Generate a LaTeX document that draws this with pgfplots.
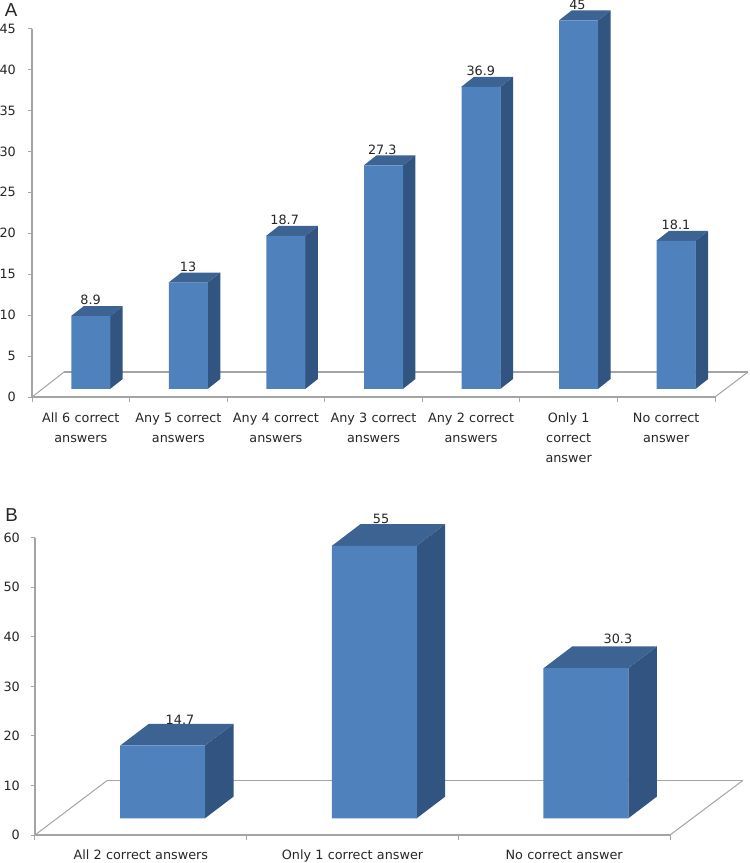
\documentclass[border=0pt]{standalone}
\usepackage{fontspec}
\setmainfont{DejaVu Sans}
\newfontfamily\panelfont{Liberation Sans}
\usepackage{pgfplots}
\usepackage{pgfplotstable}
\pgfplotsset{compat=1.18}

\definecolor{barfront}{HTML}{4F81BD}
\definecolor{barside}{HTML}{325480}
\definecolor{bartop}{HTML}{3C6391}
\definecolor{axisgray}{HTML}{A4A4A4}

% pos = category, val = value, lift = floor offset of the bar foot
\pgfplotstableread{
pos val lift lx ly
0 8.9 0.98 0.10 11.83
1 13 0.98 1.10 15.93
2 18.7 0.98 2.09 21.63
3 27.3 0.98 3.09 30.23
4 36.9 0.98 4.10 39.83
5 45 0.98 5.09 47.93
6 18.1 0.98 6.10 21.03
}\dataA
\pgfplotstableread{
pos val lift lx ly
0 14.7 3.37 0.185 23.20
1 55 3.37 1.135 63.80
2 30.3 3.37 2.254 39.50
}\dataB

% #1 category, #2 value; side and top faces of one bar
\newcommand{\solid}[2]{%
  \pgfmathsetmacro\xa{#1+\barshift-\halfw}%
  \pgfmathsetmacro\xb{#1+\barshift+\halfw}%
  \pgfmathsetmacro\xc{\xb+\depthx}%
  \pgfmathsetmacro\xd{\xa+\depthx}%
  \pgfmathsetmacro\ya{\foot}%
  \pgfmathsetmacro\yb{\foot+\depthy}%
  \pgfmathsetmacro\yc{#2+\foot}%
  \pgfmathsetmacro\yd{#2+\foot+\depthy}%
  \addplot[fill=barside,draw=none,forget plot] coordinates {(\xb,\ya) (\xc,\yb) (\xc,\yd) (\xb,\yc)} --cycle;
  \addplot[fill=bartop,draw=none,forget plot] coordinates {(\xa,\yc) (\xb,\yc) (\xc,\yd) (\xd,\yd)} --cycle;
}

\pgfplotsset{
  panel/.style={
    scale only axis,
    clip=false,
    axis x line*=bottom,
    axis y line*=left,
    axis line style={axisgray,-},
    ymin=0,
    major x tick style={draw=none},
    minor x tick style={axisgray,line width=1pt},
    ytick style={axisgray,line width=1pt},
    minor tick length=5pt,
    major tick length=4pt,
    tick align=outside,
    /pgf/number format/assume math mode=true,
    tick label style={font=\fontsize{12.8}{20}\selectfont,text=black!85},
    xticklabel style={align=center,inner sep=0pt,text width=96pt},
    yticklabel style={inner sep=0pt,anchor=east},
  },
  floor/.style={axisgray,line width=#1,forget plot},
  vals/.style={only marks,mark=none,forget plot,
    nodes near coords,point meta=explicit symbolic,
    every node near coord/.style={anchor=center,inner sep=0pt,
      font=\fontsize{12.8}{14}\selectfont,text=black!85}},
}

\begin{document}
\begin{tikzpicture}
\useasboundingbox (0pt,0pt) rectangle (750pt,-863pt);
\node[font=\panelfont\fontsize{18.7}{20}\selectfont,text=black!85] at (11pt,-10pt) {A};
\node[font=\panelfont\fontsize{18.7}{20}\selectfont,text=black!85] at (11.5pt,-515pt) {B};

\def\barshift{0.10}\def\halfw{0.2}\def\depthx{0.13}\def\depthy{1.22}\def\foot{0.98}
\begin{axis}[panel,at={(32pt,-397pt)},anchor=south west,width=683pt,height=368.5pt,
  xmin=-0.5,xmax=6.5,ymax=45,
  ytick={0,5,...,45},
  xtick={0,...,6},
  minor xtick={-0.5,0.5,...,6.5},
  xticklabels={All 6 correct\\answers,Any 5 correct\\answers,Any 4 correct\\answers,Any 3 correct\\answers,Any 2 correct\\answers,Only 1\\correct\\answer,No correct\\answer},
  xticklabel shift=12pt,
  yticklabel shift=12pt]
  \addplot[floor=1.8pt] coordinates {(-0.5,45) (-0.5,0) (6.5,0)};
  \addplot[floor=1pt] coordinates {(-0.5,0) (-0.172,3.05)};
  \addplot[floor=2pt] coordinates {(-0.172,3.05) (6.838,3.05)};
  \addplot[floor=1pt] coordinates {(6.838,3.05) (6.5,0)};
  \addplot[vals] table[x=lx,y=ly,meta=val] {\dataA};
  \solid{0}{8.9}\solid{1}{13}\solid{2}{18.7}\solid{3}{27.3}\solid{4}{36.9}\solid{5}{45}\solid{6}{18.1}
  \addplot[ybar,stack plots=y,bar width=39pt,bar shift=10pt,draw=none,fill=none,forget plot] table[x=pos,y=lift] {\dataA};
  \addplot[ybar,stack plots=y,bar width=39pt,bar shift=10pt,draw=none,fill=barfront,forget plot] table[x=pos,y=val] {\dataA};
\end{axis}

\def\barshift{0.103}\def\halfw{0.2}\def\depthx{0.135}\def\depthy{4.38}\def\foot{3.37}
\begin{axis}[panel,at={(35pt,-835pt)},anchor=south west,width=635pt,height=297.3pt,
  xmin=-0.5,xmax=2.5,ymax=60,
  ytick={0,10,...,60},
  xtick={0,1,2},
  minor xtick={-0.5,0.5,1.5,2.5},
  xticklabels={All 2 correct answers,Only 1 correct answer,No correct answer},
  xticklabel style={text width=200pt},
  xticklabel shift=11pt,
  yticklabel shift=11pt]
  \addplot[floor=1.5pt] coordinates {(-0.5,60) (-0.5,0) (2.5,0)};
  \addplot[floor=1pt] coordinates {(-0.5,0) (-0.158,11.04)};
  \addplot[floor=1.4pt] coordinates {(-0.158,11.04) (2.845,11.04)};
  \addplot[floor=1pt] coordinates {(2.845,11.04) (2.5,0)};
  \addplot[vals] table[x=lx,y=ly,meta=val] {\dataB};
  \solid{0}{14.7}\solid{1}{55}\solid{2}{30.3}
  \addplot[ybar,stack plots=y,bar width=85pt,bar shift=21.8pt,draw=none,fill=none,forget plot] table[x=pos,y=lift] {\dataB};
  \addplot[ybar,stack plots=y,bar width=85pt,bar shift=21.8pt,draw=none,fill=barfront,forget plot] table[x=pos,y=val] {\dataB};
\end{axis}
\end{tikzpicture}
\end{document}
